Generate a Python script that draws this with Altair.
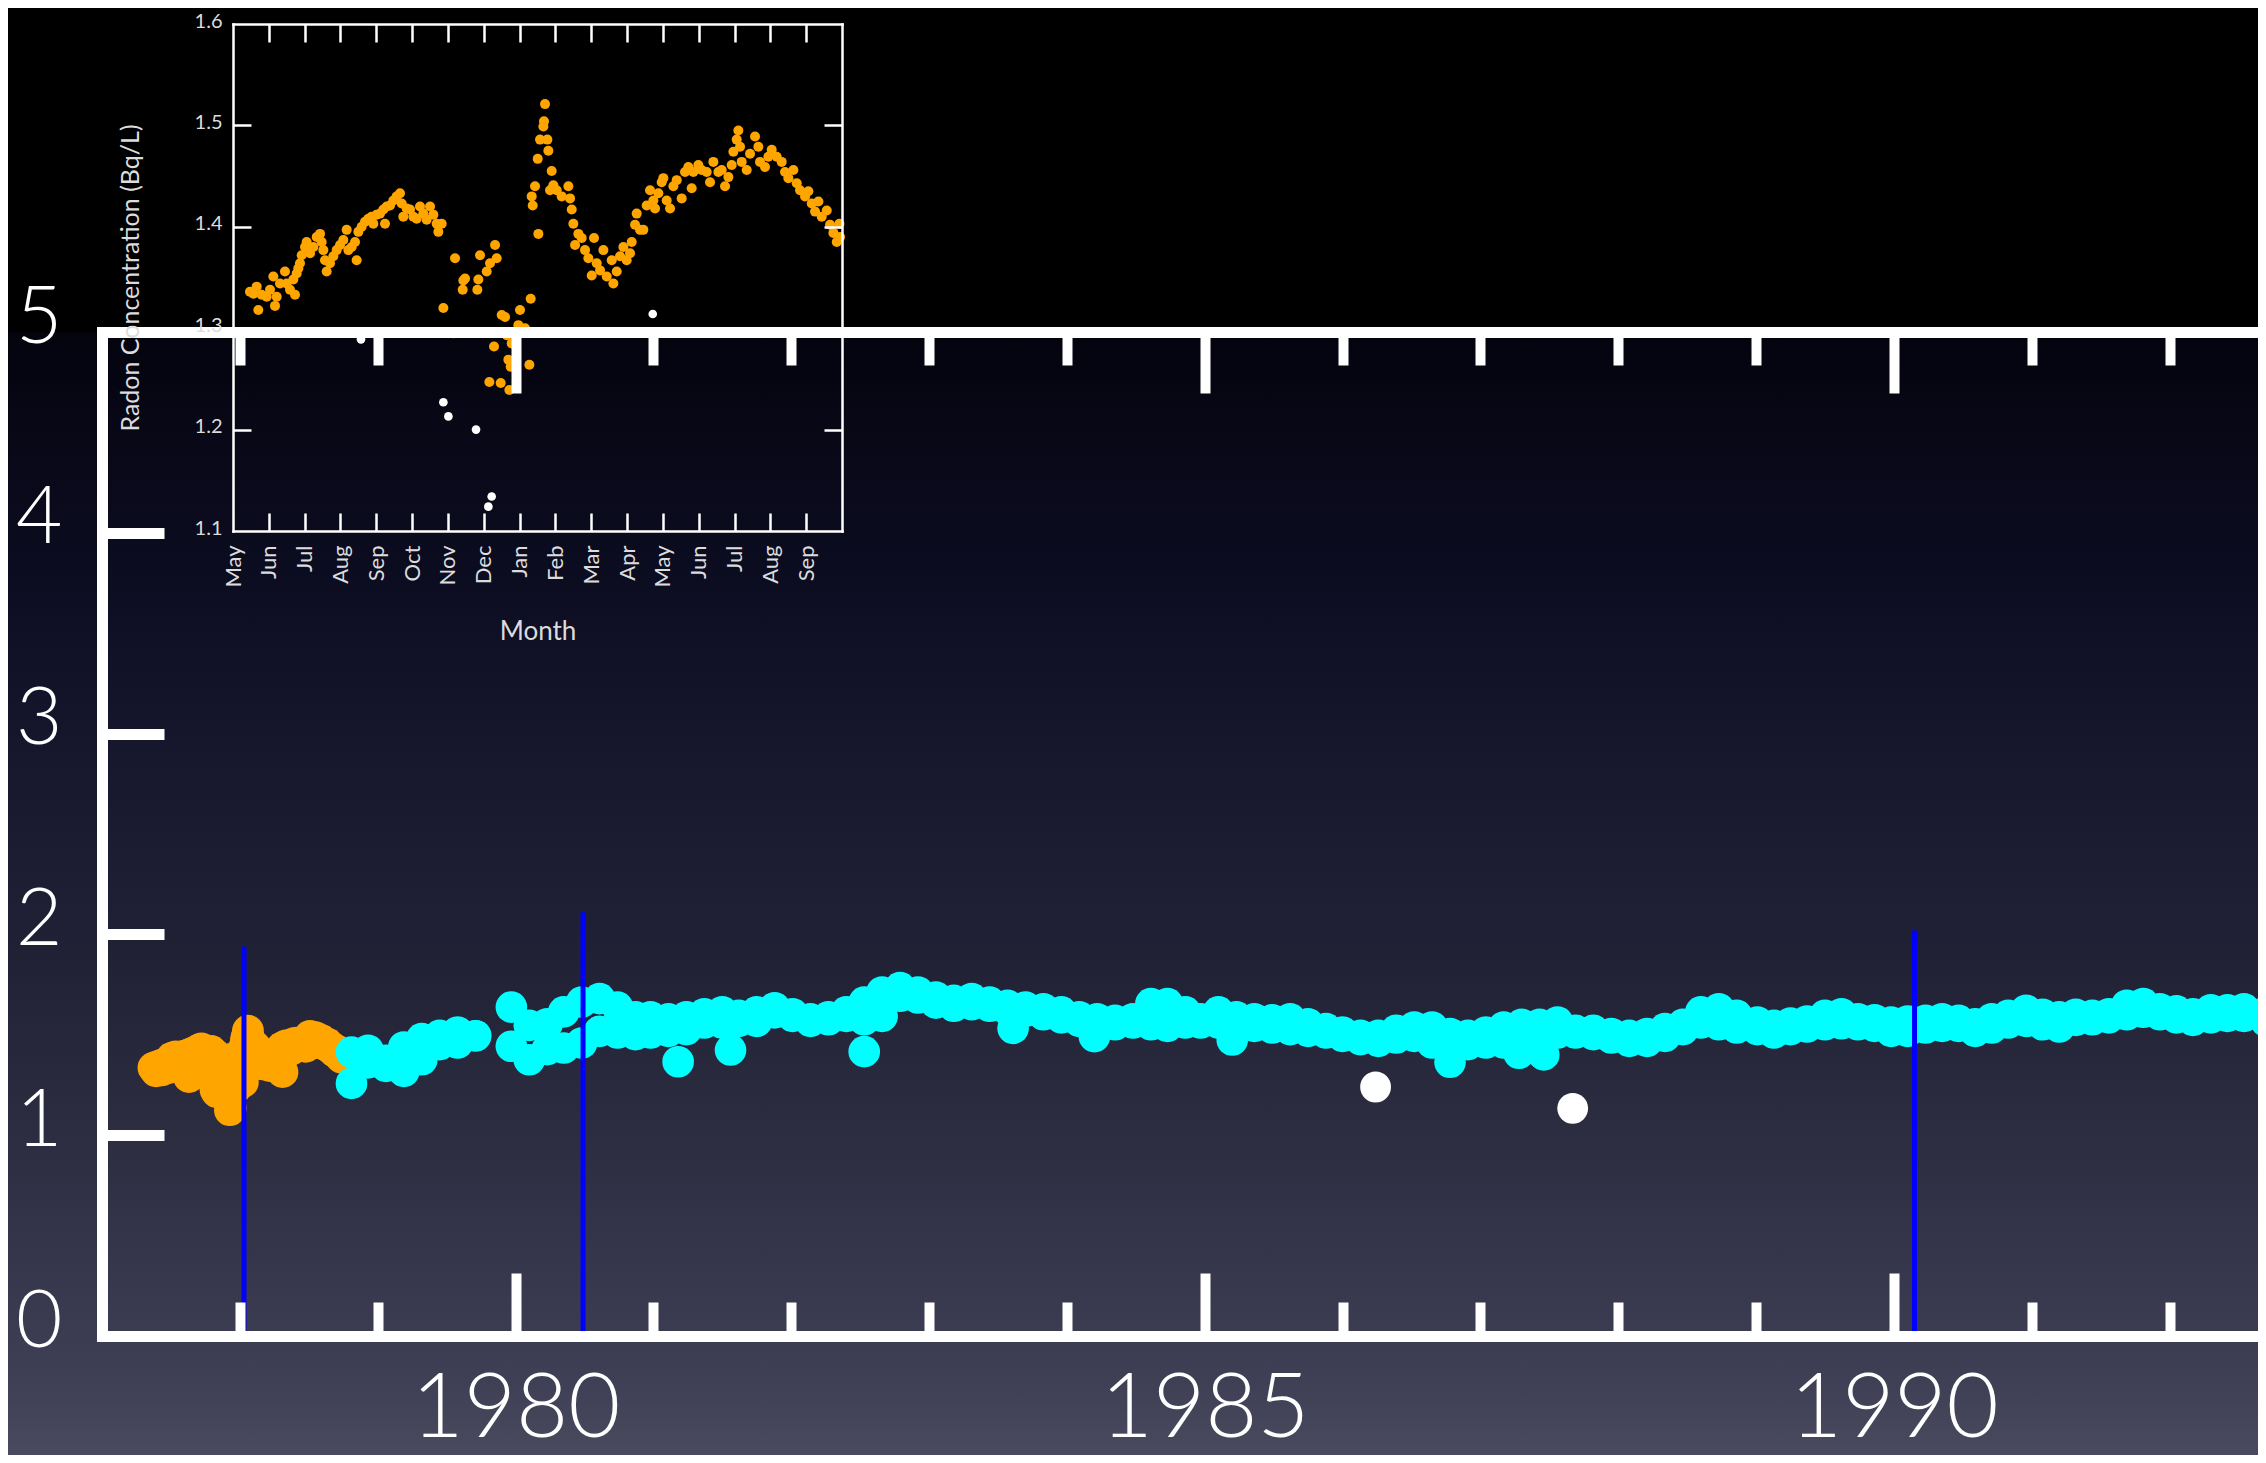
import json
import altair as alt
import pandas as pd

# ---------------- data ----------------
# Inset: months counted from 1 May 1977 (0 = May 1977, 17 = Oct 1978)
inset_month = [
    0.474, 0.568, 0.661, 0.707, 0.800, 0.940, 1.033, 1.126, 1.172, 1.219,
    1.312, 1.451, 1.498, 1.591, 1.684, 1.731, 1.777, 1.824, 1.870, 1.917,
    2.010, 2.056, 2.150, 2.243, 2.336, 2.429, 2.475, 2.522, 2.568, 2.615,
    2.708, 2.801, 2.894, 2.987, 3.080, 3.173, 3.220, 3.313, 3.406, 3.452,
    3.499, 3.592, 3.685, 3.778, 3.871, 3.918, 4.011, 4.104, 4.197, 4.243,
    4.290, 4.383, 4.476, 4.569, 4.662, 4.709, 4.755, 4.848, 4.941, 5.034,
    5.127, 5.220, 5.313, 5.406, 5.500, 5.593, 5.686, 5.732, 5.826, 5.872,
    6.151, 6.198, 6.412, 6.430, 6.477, 6.821, 6.849, 6.896, 7.082, 7.156,
    7.175, 7.287, 7.315, 7.361, 7.473, 7.501, 7.594, 7.640, 7.687, 7.715,
    7.752, 7.780, 7.873, 7.966, 8.012, 8.059, 8.152, 8.273, 8.310, 8.338,
    8.366, 8.431, 8.506, 8.524, 8.571, 8.664, 8.682, 8.710, 8.775, 8.803,
    8.850, 8.896, 8.943, 9.036, 9.175, 9.362, 9.408, 9.455, 9.501, 9.548,
    9.641, 9.734, 9.827, 9.920, 10.013, 10.078, 10.153, 10.246, 10.339, 10.432,
    10.572, 10.618, 10.711, 10.804, 10.897, 10.990, 11.083, 11.130, 11.223, 11.269,
    11.362, 11.455, 11.548, 11.641, 11.734, 11.781, 11.874, 11.967, 12.013, 12.106,
    12.200, 12.293, 12.386, 12.525, 12.618, 12.711, 12.804, 12.851, 12.990, 13.083,
    13.223, 13.316, 13.409, 13.549, 13.642, 13.735, 13.828, 13.921, 13.968, 14.061,
    14.107, 14.154, 14.200, 14.340, 14.433, 14.572, 14.665, 14.712, 14.851, 14.945,
    15.038, 15.177, 15.317, 15.410, 15.503, 15.643, 15.736, 15.829, 15.968, 16.061,
    16.155, 16.248, 16.341, 16.434, 16.574, 16.667, 16.760, 16.853, 16.928, 16.946,
]
inset_radon = [
    1.336, 1.334, 1.341, 1.318, 1.333, 1.331, 1.338, 1.351, 1.322, 1.331,
    1.344, 1.356, 1.344, 1.338, 1.348, 1.333, 1.354, 1.359, 1.364, 1.372,
    1.380, 1.385, 1.374, 1.380, 1.390, 1.393, 1.385, 1.377, 1.367, 1.356,
    1.364, 1.371, 1.377, 1.382, 1.387, 1.397, 1.377, 1.380, 1.385, 1.367,
    1.395, 1.400, 1.405, 1.408, 1.410, 1.403, 1.412, 1.413, 1.417, 1.403,
    1.420, 1.421, 1.426, 1.430, 1.433, 1.423, 1.410, 1.418, 1.417, 1.410,
    1.408, 1.420, 1.413, 1.407, 1.420, 1.412, 1.403, 1.395, 1.403, 1.320,
    1.295, 1.369, 1.338, 1.347, 1.349, 1.338, 1.348, 1.372, 1.356, 1.247,
    1.364, 1.282, 1.382, 1.369, 1.246, 1.313, 1.311, 1.293, 1.269, 1.239,
    1.262, 1.285, 1.288, 1.303, 1.318, 1.297, 1.300, 1.264, 1.329, 1.430,
    1.421, 1.440, 1.467, 1.393, 1.486, 1.499, 1.504, 1.521, 1.486, 1.475,
    1.436, 1.455, 1.441, 1.436, 1.430, 1.440, 1.428, 1.417, 1.403, 1.382,
    1.393, 1.389, 1.377, 1.369, 1.352, 1.389, 1.364, 1.357, 1.377, 1.351,
    1.367, 1.344, 1.356, 1.371, 1.380, 1.367, 1.374, 1.385, 1.402, 1.413,
    1.397, 1.397, 1.421, 1.436, 1.426, 1.418, 1.433, 1.444, 1.448, 1.426,
    1.418, 1.440, 1.446, 1.428, 1.454, 1.459, 1.438, 1.454, 1.461, 1.456,
    1.454, 1.444, 1.464, 1.454, 1.456, 1.440, 1.449, 1.461, 1.474, 1.486,
    1.495, 1.479, 1.464, 1.456, 1.472, 1.489, 1.479, 1.464, 1.459, 1.469,
    1.476, 1.469, 1.464, 1.454, 1.448, 1.456, 1.443, 1.436, 1.430, 1.435,
    1.423, 1.415, 1.425, 1.410, 1.416, 1.402, 1.394, 1.385, 1.403, 1.390,
]
inset_out_month = [3.573, 5.872, 6.012, 6.784, 7.128, 7.221, 11.717]
inset_out_radon = [1.289, 1.227, 1.213, 1.200, 1.124, 1.134, 1.314]

month_labels = ["May", "Jun", "Jul", "Aug", "Sep", "Oct", "Nov", "Dec", "Jan",
                "Feb", "Mar", "Apr", "May", "Jun", "Jul", "Aug", "Sep"]
inset_month_ticks = [1, 2, 3, 4, 5, 6, 7, 8, 9, 10, 11, 12, 13, 14, 15, 16]
inset_label_months = [0, 1, 2, 3, 4, 5, 6, 7, 8, 9, 10, 11, 12, 13, 14, 15, 16]
inset_radon_ticks = [1.2, 1.3, 1.4, 1.5]
inset_radon_labels = [1.1, 1.2, 1.3, 1.4, 1.5, 1.6]

# Main chart: cyan band (upper / lower edge of the point cloud)
cyan_year = [
    1978.81, 1978.93, 1979.06, 1979.19, 1979.32, 1979.45, 1979.58, 1979.71, 1979.97, 1980.10,
    1980.23, 1980.35, 1980.48, 1980.61, 1980.74, 1980.87, 1980.98, 1981.11, 1981.24, 1981.37,
    1981.50, 1981.62, 1981.75, 1981.88, 1982.01, 1982.14, 1982.27, 1982.40, 1982.53, 1982.66,
    1982.79, 1982.92, 1983.05, 1983.18, 1983.31, 1983.44, 1983.57, 1983.70, 1983.83, 1983.96,
    1984.09, 1984.22, 1984.35, 1984.48, 1984.61, 1984.73, 1984.86, 1984.97, 1985.10, 1985.23,
    1985.36, 1985.49, 1985.62, 1985.75, 1985.88, 1986.00, 1986.13, 1986.26, 1986.39, 1986.52,
    1986.65, 1986.78, 1986.91, 1987.04, 1987.17, 1987.30, 1987.43, 1987.56, 1987.69, 1987.82,
    1987.95, 1988.08, 1988.21, 1988.34, 1988.47, 1988.60, 1988.73, 1988.86, 1989.01, 1989.13,
    1989.25, 1989.37, 1989.50, 1989.62, 1989.74, 1989.86, 1989.98, 1990.10, 1990.23, 1990.35,
    1990.47, 1990.59, 1990.71, 1990.83, 1990.96, 1991.08, 1991.20, 1991.32, 1991.44, 1991.56,
    1991.69, 1991.81, 1991.93, 1992.05, 1992.17, 1992.30, 1992.42, 1992.54, 1992.70,
]
cyan_upper = [
    1.414, 1.423, 1.373, 1.439, 1.481, 1.497, 1.514, 1.495, 1.638, 1.547,
    1.555, 1.614, 1.663, 1.680, 1.638, 1.589, 1.589, 1.580, 1.589, 1.605,
    1.614, 1.597, 1.614, 1.635, 1.605, 1.580, 1.589, 1.614, 1.663, 1.713,
    1.735, 1.713, 1.688, 1.672, 1.680, 1.663, 1.647, 1.638, 1.630, 1.614,
    1.589, 1.580, 1.572, 1.580, 1.655, 1.655, 1.614, 1.580, 1.614, 1.589,
    1.580, 1.575, 1.580, 1.555, 1.531, 1.514, 1.497, 1.497, 1.522, 1.539,
    1.539, 1.506, 1.497, 1.514, 1.539, 1.552, 1.552, 1.564, 1.522, 1.522,
    1.506, 1.497, 1.506, 1.531, 1.552, 1.614, 1.630, 1.597, 1.564, 1.547,
    1.559, 1.569, 1.597, 1.605, 1.580, 1.575, 1.564, 1.569, 1.572, 1.580,
    1.572, 1.555, 1.580, 1.597, 1.622, 1.602, 1.589, 1.602, 1.597, 1.605,
    1.647, 1.655, 1.630, 1.619, 1.605, 1.625, 1.625, 1.630, 1.614,
]
cyan_lower = [
    1.258, 1.360, 1.343, 1.318, 1.376, 1.451, 1.459, 1.495, 1.443, 1.376,
    1.426, 1.434, 1.459, 1.517, 1.509, 1.501, 1.509, 1.517, 1.526, 1.559,
    1.559, 1.567, 1.567, 1.609, 1.592, 1.567, 1.575, 1.592, 1.575, 1.592,
    1.692, 1.683, 1.658, 1.642, 1.650, 1.642, 1.625, 1.617, 1.600, 1.584,
    1.567, 1.559, 1.550, 1.559, 1.550, 1.542, 1.559, 1.559, 1.559, 1.550,
    1.542, 1.534, 1.526, 1.517, 1.509, 1.492, 1.476, 1.467, 1.484, 1.492,
    1.459, 1.443, 1.451, 1.459, 1.459, 1.476, 1.492, 1.509, 1.509, 1.501,
    1.484, 1.467, 1.467, 1.492, 1.526, 1.559, 1.550, 1.534, 1.526, 1.509,
    1.526, 1.539, 1.550, 1.555, 1.550, 1.542, 1.517, 1.517, 1.534, 1.542,
    1.542, 1.517, 1.534, 1.559, 1.567, 1.550, 1.539, 1.572, 1.575, 1.584,
    1.600, 1.612, 1.600, 1.584, 1.572, 1.584, 1.592, 1.592, 1.567,
]
cyan_blob_year = [1981.18, 1981.56, 1982.53, 1983.61, 1984.20, 1985.20, 1986.78, 1987.28, 1987.46]
cyan_blob_val = [1.366, 1.424, 1.416, 1.532, 1.491, 1.474, 1.363, 1.408, 1.400]

white_year = [1986.24, 1987.67]
white_val = [1.24, 1.134]

blue_year = [1978.03, 1980.49, 1990.15]
blue_top = [1.94, 2.11, 2.02]

year_ticks = [1978, 1979, 1980, 1981, 1982, 1983, 1984, 1985, 1986, 1987,
              1988, 1989, 1990, 1991, 1992]
year_labels = [1980, 1985, 1990]
conc_ticks = [1, 2, 3, 4]
conc_labels = [0, 1, 2, 3, 4, 5]

# ---------------- tables ----------------
inset_df = pd.DataFrame({"m": inset_month, "v": inset_radon})
inset_out_df = pd.DataFrame({"m": inset_out_month, "v": inset_out_radon})
# the same record, on the long time axis (1 May 1977 = 1977 + 4/12)
all_m = inset_month + inset_out_month
all_v = inset_radon + inset_out_radon
orange_df = pd.DataFrame({"year": [1977 + (4 + m) / 12 for m in all_m], "v": all_v})
cyan_df = pd.DataFrame({
    "year": cyan_year + cyan_year + cyan_blob_year,
    "v": cyan_upper + cyan_lower + cyan_blob_val,
})
white_df = pd.DataFrame({"year": white_year, "v": white_val})
blue_df = pd.DataFrame({"year": blue_year, "top": blue_top, "base": [0] * len(blue_year)})

# ---------------- geometry ----------------
W, H = 2156, 1447
main_x = alt.Scale(domain=[1977, 1992.7], range=[0, 2164], nice=False, zero=False)
main_y = alt.Scale(domain=[0, 5], range=[1328, 324], nice=False, zero=False)
ins_x = alt.Scale(domain=[0, 17], range=[131, 740], nice=False, zero=False)
ins_y = alt.Scale(domain=[1.1, 1.6], range=[523, 16], nice=False, zero=False)

FONT = "Lato"
INSET_TXT = "#dcdcdc"


def ax(**kw):
    base = dict(grid=False, zindex=1, title=None, labelFlush=False,
                labelOverlap=False, labelLimit=0)
    base.update(kw)
    return alt.Axis(**base)


def major_minor(major, minor):
    return {"condition": {"test": "datum.value % 5 === 0", "value": major}, "value": minor}


def line_axis(orient, offset, values, size, width, dwidth):
    return ax(orient=orient, offset=offset, values=values, labels=False,
              ticks=True, tickSize=size, tickWidth=width, tickColor="white",
              domain=True, domainColor="white", domainWidth=dwidth, domainCap="square")


def label_axis(orient, offset, values, **kw):
    return ax(orient=orient, offset=offset, values=values, ticks=False, tickSize=0,
              domain=False, labelFont=FONT, **kw)


def anchor(xv, yv, xs, ys, xaxis, yaxis):
    df = pd.DataFrame({"x": [xv], "y": [yv]})
    return alt.Chart(df).mark_point(opacity=0).encode(
        x=alt.X("x:Q", scale=xs, axis=xaxis),
        y=alt.Y("y:Q", scale=ys, axis=yaxis))


bg_stops = [(0.0, "#000000"), (0.2235, "#000000"), (0.2245, "#04040f"),
            (0.40, "#0d0d22"), (0.50, "#15152c"), (0.65, "#212136"),
            (0.80, "#2f2f44"), (0.95, "#3f3f55"), (1.0, "#4a4a5f")]
bg = alt.Chart(pd.DataFrame({"k": [0]})).mark_rect(
    color=alt.LinearGradient(
        gradient="linear", x1=0, x2=0, y1=0, y2=1,
        stops=[alt.GradientStop(offset=o, color=c) for o, c in bg_stops])
).encode(x=alt.value(-94), x2=alt.value(W), y=alt.value(0), y2=alt.value(H))

# ---------------- data layers ----------------
inset_pts = alt.Chart(inset_df).mark_circle(size=100, color="#FFA500", opacity=1).encode(
    x=alt.X("m:Q", scale=ins_x, axis=None), y=alt.Y("v:Q", scale=ins_y, axis=None))
inset_out = alt.Chart(inset_out_df).mark_circle(size=75, color="white", opacity=1).encode(
    x=alt.X("m:Q", scale=ins_x, axis=None), y=alt.Y("v:Q", scale=ins_y, axis=None))

BIG = 1000
orange = alt.Chart(orange_df).mark_circle(size=BIG, color="#FFA500", opacity=1).encode(
    x=alt.X("year:Q", scale=main_x, axis=None), y=alt.Y("v:Q", scale=main_y, axis=None))
cyan = alt.Chart(cyan_df).mark_circle(size=BIG, color="#00FFFF", opacity=1).encode(
    x=alt.X("year:Q", scale=main_x, axis=None), y=alt.Y("v:Q", scale=main_y, axis=None))
white = alt.Chart(white_df).mark_circle(size=950, color="white", opacity=1).encode(
    x=alt.X("year:Q", scale=main_x, axis=None), y=alt.Y("v:Q", scale=main_y, axis=None))
blue = alt.Chart(blue_df).mark_rule(color="#0000FF", strokeWidth=5).encode(
    x=alt.X("year:Q", scale=main_x, axis=None),
    y=alt.Y("top:Q", scale=main_y, axis=None), y2="base:Q")

# ---------------- axis layers ----------------
# main frame
m1 = anchor(1977, 0, main_x, main_y,
            line_axis("top", -1328, year_ticks, major_minor(63, 34), 10, 11),
            line_axis("right", -W, conc_ticks, 62, 11, 11))
m2 = anchor(1977, 0, main_x, main_y,
            label_axis("bottom", 1328 - H, year_labels, format="d", labelFontSize=90,
                       labelFontWeight=300, labelColor="white", labelPadding=29),
            label_axis("left", 0, conc_labels, format="d", labelFontSize=80,
                       labelFontWeight=300, labelColor="white", labelPadding=40,
                       labelOffset=-14))
m3 = anchor(1977, 0, main_x, main_y,
            line_axis("bottom", 324 - H, year_ticks, major_minor(61, 33), 10, 11),
            None)

# inset frame
label_expr = json.dumps(month_labels) + "[datum.value]"
i1 = anchor(0, 1.1, ins_x, ins_y,
            line_axis("top", -523, inset_month_ticks, 18, 2.5, 2.5),
            line_axis("right", 131 - W, inset_radon_ticks, 18, 2.5, 2.5))
i2 = anchor(0, 1.1, ins_x, ins_y,
            label_axis("bottom", 523 - H, inset_label_months, labelExpr=label_expr,
                       labelAngle=270, labelFontSize=22, labelColor=INSET_TXT,
                       labelPadding=14, title="Month", titleFont=FONT, titleFontSize=26,
                       titleFontWeight="normal", titleColor=INSET_TXT, titleY=100,
                       titleBaseline="middle"),
            label_axis("left", -131, inset_radon_labels, format=".1f", labelFontSize=20,
                       labelColor=INSET_TXT, labelPadding=11, labelOffset=-3,
                       title="Radon Concentration (Bq/L)", titleFont=FONT,
                       titleFontSize=25, titleFontWeight="normal", titleColor=INSET_TXT,
                       titleX=-103, titleBaseline="middle"))
i3 = anchor(0, 1.1, ins_x, ins_y,
            line_axis("bottom", 16 - H, inset_month_ticks, 18, 2.5, 2.5),
            line_axis("left", -740, inset_radon_ticks, 18, 2.5, 2.5))

chart = alt.layer(
    bg, inset_pts, inset_out, orange, cyan, white, blue,
    m1, m2, m3, i1, i2, i3,
).resolve_scale(x="independent", y="independent").properties(
    width=W, height=H,
    autosize=alt.AutoSizeParams(type="none"),
    padding={"left": 94, "top": 0, "right": 0, "bottom": 0},
    background="#000000",
).configure_view(stroke=None)

chart.save("out.html", embed_options={"renderer": "svg", "actions": False})
